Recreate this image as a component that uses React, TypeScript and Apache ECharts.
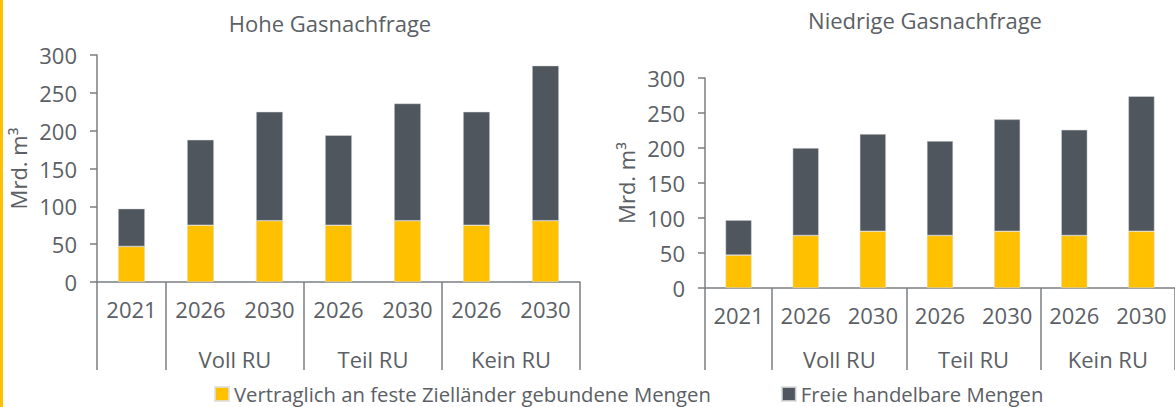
import React, { useEffect, useRef } from "react";
import * as echarts from "echarts";

const years = ["2021", "2026", "2030", "2026", "2030", "2026", "2030"];
const groupLabels = ["Voll RU", "Teil RU", "Kein RU"];
const groupCenters = [2, 4, 6];
const groupBounds = [0, 1, 3, 5, 7];
const yTicks = [0, 50, 100, 150, 200, 250, 300];

const highContract = [47, 75, 81, 75, 81, 75, 81];
const highFree = [50, 113, 144, 119, 155, 150, 205];
const lowContract = [47, 75, 81, 75, 81, 75, 81];
const lowFree = [50, 125, 139, 135, 160, 151, 193];

const titles = ["Hohe Gasnachfrage", "Niedrige Gasnachfrage"];
const seriesNames = [
  "Vertraglich an feste Zielländer gebundene Mengen",
  "Freie handelbare Mengen",
];
const yName = "Mrd. m³";

const YELLOW = "#FFC000";
const DARK = "#50565E";
const TEXT = "#5B6065";
const AXIS = "#7A7F83";
const FONT = "'Open Sans', 'Noto Sans', sans-serif";

export default function App() {
  const ref = useRef<HTMLDivElement>(null);
  useEffect(() => {
    if (!ref.current) return;
    const chart = echarts.init(ref.current, null, { renderer: "svg" });
    const grids = [
      { left: 97, right: 595, top: 55, bottom: 125 },
      { left: 705, right: -4, top: 78, bottom: 119 },
    ];
    const tickLens = [88, 82];
    const xAxes: any[] = [];
    const yAxes: any[] = [];
    grids.forEach((_, i) => {
      xAxes.push({
        type: "category",
        gridIndex: i,
        data: years,
        position: "bottom",
        axisLine: { show: true, lineStyle: { color: AXIS, width: 1.5 } },
        axisTick: { show: false },
        axisLabel: {
          interval: 0,
          margin: 16,
          color: TEXT,
          fontSize: 22,
          fontFamily: FONT,
        },
      });
      xAxes.push({
        type: "value",
        gridIndex: i,
        min: 0,
        max: 7,
        position: "bottom",
        axisLine: { show: false },
        splitLine: { show: false },
        axisTick: {
          show: true,
          customValues: groupBounds,
          length: tickLens[i],
          lineStyle: { color: AXIS, width: 1.5 },
        },
        axisLabel: {
          show: true,
          customValues: groupCenters,
          formatter: (v: number) => groupLabels[groupCenters.indexOf(v)] ?? "",
          margin: i === 0 ? 66 : 60,
          color: TEXT,
          fontSize: 22,
          fontFamily: FONT,
        },
      });
      yAxes.push({
        type: "value",
        gridIndex: i,
        min: yTicks[0],
        max: yTicks[yTicks.length - 1],
        interval: 50,
        name: yName,
        nameLocation: "middle",
        nameRotate: 90,
        nameGap: 68,
        nameTextStyle: { color: TEXT, fontSize: 22, fontFamily: FONT },
        axisLine: { show: true, lineStyle: { color: AXIS, width: 1.5 } },
        axisTick: { show: true, length: 7, lineStyle: { color: AXIS, width: 1.5 } },
        splitLine: { show: false },
        axisLabel: { margin: 20, color: TEXT, fontSize: 22, fontFamily: FONT },
      });
    });
    const mk = (name: string, data: number[], color: string, gi: number) => ({
      name,
      type: "bar",
      stack: "s" + gi,
      xAxisIndex: gi * 2,
      yAxisIndex: gi,
      data,
      barWidth: "39%",
      itemStyle: { color, borderColor: "rgba(220,222,224,0.8)", borderWidth: 0.6 },
    });
    chart.setOption({
      animation: false,
      textStyle: { fontFamily: FONT },
      title: [
        {
          text: titles[0],
          left: 325,
          top: 7,
          textAlign: "center",
          textStyle: { color: TEXT, fontSize: 22, fontWeight: "normal", fontFamily: FONT },
        },
        {
          text: titles[1],
          left: 920,
          top: 4,
          textAlign: "center",
          textStyle: { color: TEXT, fontSize: 22, fontWeight: "normal", fontFamily: FONT },
        },
      ],
      legend: {
        left: 209,
        top: 379,
        icon: "rect",
        itemWidth: 14,
        itemHeight: 14,
        itemGap: 70,
        textStyle: { color: TEXT, fontSize: 20.3, fontFamily: FONT },
        data: seriesNames,
      },
      graphic: [
        { type: "rect", left: 0, top: 0, shape: { width: 3, height: 407 }, style: { fill: YELLOW } },
      ],
      grid: grids,
      xAxis: xAxes,
      yAxis: yAxes,
      series: [
        mk(seriesNames[0], highContract, YELLOW, 0),
        mk(seriesNames[1], highFree, DARK, 0),
        mk(seriesNames[0], lowContract, YELLOW, 1),
        mk(seriesNames[1], lowFree, DARK, 1),
      ],
    });
    return () => chart.dispose();
  }, []);
  return (
    <div
      ref={ref}
      style={{ position: "absolute", left: 0, top: 0, width: 1175, height: 407 }}
    />
  );
}
